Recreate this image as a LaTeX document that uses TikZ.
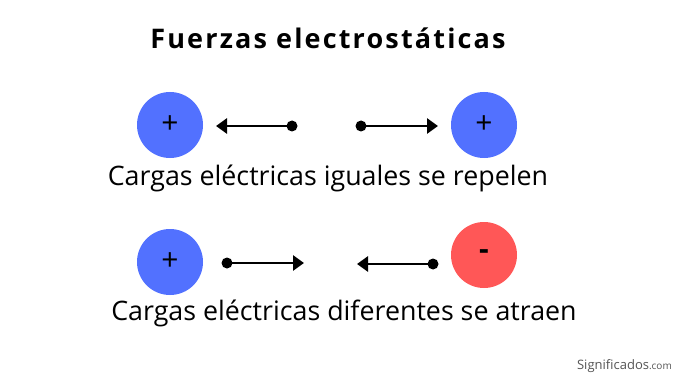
\documentclass[tikz,border=0pt]{standalone}
\usepackage{fontspec}
\setmainfont{Open Sans}
\newfontfamily\titlefont[LetterSpace=8]{Open Sans}
\usetikzlibrary{arrows.meta}
\definecolor{pblue}{HTML}{5271FF}
\definecolor{pred}{HTML}{FF5757}
\definecolor{wmgray}{HTML}{555555}
\tikzset{
  charge/.style={circle, minimum size=66pt, inner sep=0pt, font=\fontsize{30}{30}\selectfont},
  force/.style={line width=2.8pt, -{Triangle[length=11pt,width=15pt]}, shorten >=0pt},
  dotpt/.style={circle, fill=black, inner sep=0pt, minimum size=11pt},
  caption/.style={font=\fontsize{26.8}{26.8}\selectfont, inner sep=0pt},
}
\begin{document}
\begin{tikzpicture}[x=1pt,y=-1pt]
\useasboundingbox[fill=white] (0,0) rectangle (685,385);
\node[font=\titlefont\bfseries\fontsize{27}{27}\selectfont, inner sep=0pt] (title) at (328,38) {Fuerzas electrostáticas};
% row 1
\node[charge, fill=pblue] (c1) at (170,125) {+};
\node[charge, fill=pblue] (c2) at (484,125) {+};
\node[dotpt] (d1) at (292,126) {};
\coordinate (t1) at (216,126);
\node[dotpt] (d2) at (361,126) {};
\coordinate (t2) at (438,126);
\draw[force] (d1.center) -- (t1);
\draw[force] (d2.center) -- (t2);
\node[caption] (cap1) at (328,178) {Cargas eléctricas iguales se repelen};
% row 2
\node[charge, fill=pblue] (c3) at (170,262) {+};
\node[charge, fill=pred] (c4) at (484,255) {\bfseries -};
\node[dotpt] (d3) at (227,263) {};
\coordinate (t3) at (304,263);
\node[dotpt] (d4) at (433,264) {};
\coordinate (t4) at (357,264);
\draw[force] (d3.center) -- (t3);
\draw[force] (d4.center) -- (t4);
\node[caption] (cap2) at (344,313) {Cargas eléctricas diferentes se atraen};
\node[inner sep=0pt, text=wmgray, anchor=east] (wm) at (672,366) {\fontsize{13}{13}\selectfont Significados\fontsize{10}{10}\selectfont.com};
\end{tikzpicture}
\end{document}
